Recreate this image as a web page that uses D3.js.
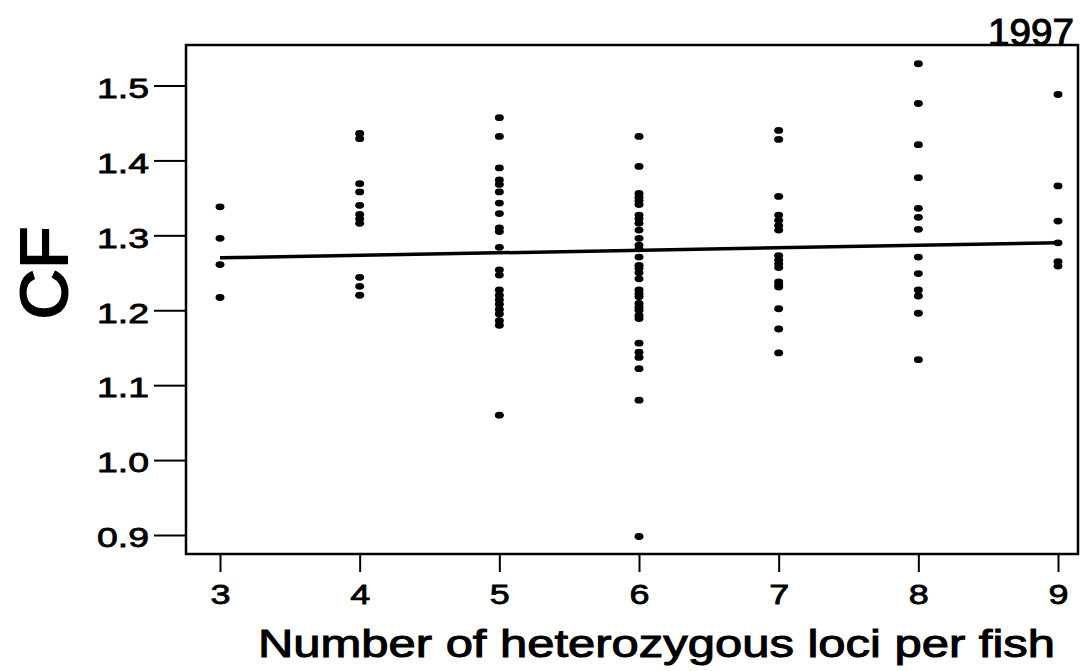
<!DOCTYPE html>
<html>
<head>
<meta charset="utf-8">
<script src="https://cdn.jsdelivr.net/npm/d3@7"></script>
<style>
  html, body { margin: 0; padding: 0; background: #fff; }
  svg { display: block; font-family: "Liberation Sans", Arial, sans-serif; }
</style>
</head>
<body>
<div id="chart"></div>
<script>
// CF values per number of heterozygous loci
const lociCounts = [3, 4, 5, 6, 7, 8, 9];
const cf3 = [1.338, 1.296, 1.261, 1.217];
const cf4 = [1.436, 1.429, 1.369, 1.358, 1.340, 1.328, 1.322, 1.316, 1.244, 1.232, 1.220];
const cf5 = [1.457, 1.432, 1.390, 1.374, 1.368, 1.358, 1.343, 1.329, 1.310, 1.305, 1.284,
             1.254, 1.247, 1.227, 1.220, 1.214, 1.208, 1.201, 1.195, 1.186, 1.180, 1.060];
const cf6 = [1.432, 1.392, 1.356, 1.351, 1.346, 1.341, 1.327, 1.322, 1.316, 1.307, 1.296,
             1.287, 1.282, 1.271, 1.260, 1.256, 1.250, 1.242, 1.227, 1.222, 1.218, 1.209,
             1.204, 1.200, 1.193, 1.189, 1.156, 1.144, 1.137, 1.122, 1.080, 0.898];
const cf7 = [1.440, 1.428, 1.352, 1.327, 1.320, 1.313, 1.307, 1.273, 1.267, 1.262, 1.257,
             1.238, 1.234, 1.231, 1.202, 1.175, 1.143];
const cf8 = [1.529, 1.476, 1.421, 1.377, 1.336, 1.324, 1.308, 1.271, 1.249, 1.227, 1.219,
             1.196, 1.134];
const cf9 = [1.488, 1.366, 1.319, 1.290, 1.265, 1.259];

// fitted line, end points
const fitX = [3, 9];
const fitY = [1.270, 1.290];

const xTicks = [3, 4, 5, 6, 7, 8, 9];
const yTicks = [0.9, 1.0, 1.1, 1.2, 1.3, 1.4, 1.5];

const yearLabel = '1997';
const xTitle = 'Number of heterozygous loci per fish';
const yTitle = 'CF';

const W = 1092, H = 671;
const frame = { left: 186, top: 45, right: 1078, bottom: 554 };

const svg = d3.select('#chart').append('svg')
  .attr('width', W)
  .attr('height', H);

// --- Scales ---
const x = d3.scaleLinear().domain([3, 9]).range([220, 1058]);
const y = d3.scaleLinear().domain([0.9, 1.5]).range([535, 85.5]);

// --- Axes ---
const yAxis = svg.append('g')
  .attr('transform', `translate(${frame.left},0)`)
  .call(d3.axisLeft(y).tickValues(yTicks).tickSize(32).tickPadding(5).tickFormat(d3.format('.1f')));

const xAxis = svg.append('g')
  .attr('transform', `translate(0,${frame.bottom})`)
  .call(d3.axisBottom(x).tickValues(xTicks).tickSize(18).tickPadding(10).tickFormat(d3.format('d')));

[xAxis, yAxis].forEach(g => {
  g.select('.domain').remove();
  g.selectAll('line').attr('stroke', '#000').attr('stroke-width', 2);
  g.selectAll('text')
    .attr('fill', '#000')
    .attr('stroke', '#000')
    .attr('stroke-width', 0.8)
    .style('font-size', '28px');
});
yAxis.selectAll('text').attr('textLength', 52).attr('lengthAdjust', 'spacingAndGlyphs').attr('dy', '0.42em');
xAxis.selectAll('text').attr('textLength', 20).attr('lengthAdjust', 'spacingAndGlyphs').attr('dy', '0.78em');

// --- Frame ---
svg.append('rect')
  .attr('x', frame.left)
  .attr('y', frame.top)
  .attr('width', frame.right - frame.left)
  .attr('height', frame.bottom - frame.top)
  .attr('fill', 'none')
  .attr('stroke', '#000')
  .attr('stroke-width', 2.5);

// --- Points ---
const groups = [cf3, cf4, cf5, cf6, cf7, cf8, cf9];
const points = [];
groups.forEach((vals, i) => vals.forEach(v => points.push({ loci: lociCounts[i], cf: v })));

svg.selectAll('.dot')
  .data(points)
  .enter().append('ellipse')
  .attr('class', 'dot')
  .attr('cx', d => x(d.loci))
  .attr('cy', d => y(d.cf))
  .attr('rx', 4.5)
  .attr('ry', 3.4)
  .attr('fill', '#000');

// --- Fit line ---
const line = d3.line()
  .x(d => x(d[0]))
  .y(d => y(d[1]));

svg.append('path')
  .datum(fitX.map((v, i) => [v, fitY[i]]))
  .attr('fill', 'none')
  .attr('stroke', '#000')
  .attr('stroke-width', 3.5)
  .attr('d', line);

// --- Labels ---
svg.append('text')
  .attr('x', 1074)
  .attr('y', 45)
  .attr('text-anchor', 'end')
  .attr('textLength', 86)
  .attr('lengthAdjust', 'spacingAndGlyphs')
  .attr('stroke', '#000')
  .attr('stroke-width', 1)
  .style('font-size', '37px')
  .text(yearLabel);

svg.append('text')
  .attr('x', 258)
  .attr('y', 657)
  .attr('textLength', 797)
  .attr('lengthAdjust', 'spacingAndGlyphs')
  .attr('stroke', '#000')
  .attr('stroke-width', 1)
  .style('font-size', '38px')
  .text(xTitle);

svg.append('text')
  .attr('transform', 'translate(67,273) rotate(-90)')
  .attr('text-anchor', 'middle')
  .attr('textLength', 93)
  .attr('lengthAdjust', 'spacingAndGlyphs')
  .attr('stroke', '#000')
  .attr('stroke-width', 2)
  .style('font-size', '66px')
  .text(yTitle);
</script>
</body>
</html>
